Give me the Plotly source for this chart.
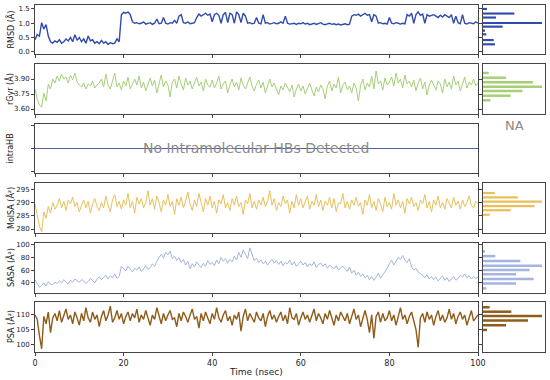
import plotly.graph_objects as go

# ---------------- data ----------------
RMSD = [0.42,0.6,0.55,1.02,0.8,0.95,0.55,0.35,0.3,0.38,
        0.33,0.42,0.3,0.35,0.45,0.38,0.5,0.35,0.6,0.4,
        0.5,0.35,0.45,0.3,0.55,0.38,0.42,0.3,0.35,0.28,
        0.4,0.3,0.35,0.25,0.32,0.28,0.3,0.45,0.35,1.3,
        1.38,1.35,1.4,1.3,1.05,1.0,1.02,0.98,1.0,1.05,
        0.97,1.0,1.02,0.96,1.0,1.15,0.98,1.0,1.2,1.0,
        0.97,1.02,1.0,1.1,1.0,1.25,1.3,1.02,1.0,1.05,
        0.98,1.0,1.02,1.2,1.32,1.25,1.3,1.35,1.28,1.32,
        1.05,1.3,1.35,1.28,1.0,1.3,1.38,1.02,1.35,1.3,
        1.0,1.4,1.3,1.02,1.35,1.25,1.0,1.02,0.98,1.0,
        1.2,1.0,0.98,1.3,1.0,1.02,0.97,1.0,1.02,0.98,
        1.0,1.05,1.0,1.25,1.0,0.97,0.98,1.0,0.96,1.0,
        0.98,1.02,0.97,1.0,0.95,0.98,1.0,0.96,0.98,1.02,
        0.97,0.95,0.98,1.0,0.96,0.98,0.95,0.97,0.94,0.96,
        0.98,0.95,0.97,1.25,1.3,1.28,1.32,1.25,1.3,1.35,
        1.28,1.3,1.05,1.3,1.25,1.0,1.02,0.98,1.0,0.97,
        1.2,1.0,0.98,1.02,1.0,0.97,1.0,0.98,1.3,1.25,
        1.35,1.0,1.3,1.4,1.28,1.32,1.0,1.3,1.25,1.28,
        1.3,1.25,1.2,1.28,1.22,1.3,1.25,1.2,1.3,1.0,
        1.25,1.02,0.98,1.3,1.0,0.97,1.02,1.0,0.98,1.05,
        1.0]

RGYR = [3.80,3.70,3.64,3.62,3.76,3.68,3.85,3.80,3.90,3.86,
        3.93,3.88,3.95,3.90,3.92,3.86,3.94,3.89,3.96,3.87,
        3.84,3.82,3.86,3.80,3.85,3.83,3.88,3.81,3.84,3.86,
        3.90,3.82,3.95,3.84,3.80,3.88,3.96,3.82,3.86,3.79,
        3.88,3.83,3.92,3.80,3.86,3.90,3.84,3.93,3.81,3.87,
        3.78,3.85,3.91,3.83,3.89,3.76,3.86,3.94,3.82,3.88,
        3.84,3.72,3.87,3.90,3.81,3.93,3.85,3.79,3.91,3.84,
        3.88,3.80,3.86,3.92,3.83,3.87,3.78,3.90,3.84,3.82,
        3.89,3.81,3.86,3.93,3.80,3.85,3.88,3.76,3.84,3.90,
        3.82,3.87,3.79,3.91,3.84,3.80,3.86,3.92,3.83,3.78,
        3.85,3.89,3.81,3.87,3.76,3.84,3.90,3.82,3.86,3.80,
        3.74,3.83,3.79,3.86,3.81,3.77,3.84,3.72,3.80,3.85,
        3.78,3.83,3.75,3.81,3.86,3.79,3.73,3.82,3.77,3.84,
        3.80,3.70,3.83,3.88,3.78,3.85,3.81,3.92,3.76,3.84,
        3.87,3.79,3.83,3.76,3.86,3.81,3.68,3.84,3.90,3.79,
        3.86,3.82,3.93,3.80,3.98,3.85,3.88,3.79,3.91,3.84,
        3.87,3.92,3.83,3.96,3.86,3.90,3.81,3.94,3.85,3.88,
        3.82,3.89,3.78,3.86,3.91,3.80,3.87,3.74,3.84,3.89,
        3.83,3.79,3.88,3.85,3.76,3.90,3.82,3.87,3.80,3.93,
        3.84,3.88,3.78,3.86,3.92,3.81,3.87,3.84,3.90,3.83,
        3.86]

INTRAHB = [0.0, 0.0]

MOLSA = [289.5,285.0,281.0,279.0,286.5,284.0,288.5,286.0,290.0,287.5,
         289.0,291.5,288.0,290.5,287.0,291.0,289.5,292.0,288.5,290.0,
         286.5,289.0,291.0,288.0,290.5,286.0,289.5,291.5,288.5,287.0,
         290.0,288.0,292.5,289.0,286.5,291.0,293.0,288.5,290.5,287.5,
         291.0,289.0,293.5,288.0,290.5,286.0,292.0,289.5,291.5,288.0,
         290.0,294.5,289.0,291.5,287.5,292.5,290.0,286.5,291.0,289.0,
         293.0,288.5,290.5,285.5,291.5,289.0,292.0,288.0,290.5,294.0,
         289.5,287.0,291.0,288.5,293.5,290.0,286.5,291.5,289.0,292.5,
         288.0,290.5,286.0,291.0,289.5,293.0,288.0,290.0,287.0,291.5,
         289.0,292.5,288.5,290.0,285.5,291.0,289.5,293.5,288.0,290.5,
         287.5,291.0,289.0,292.0,288.5,290.5,294.5,289.0,291.5,287.0,
         290.0,288.5,292.5,289.5,291.0,286.0,290.5,288.0,293.0,289.0,
         291.5,288.0,290.0,292.5,287.5,290.5,289.0,293.0,288.5,291.0,
         287.0,290.5,289.0,292.0,288.0,291.5,286.5,290.0,289.5,293.5,
         288.0,290.5,287.5,291.0,289.0,292.0,288.5,290.0,285.5,291.0,
         289.0,293.0,288.0,290.5,287.0,291.5,289.5,286.5,292.0,288.5,
         290.0,287.5,293.5,289.0,291.0,288.0,290.5,286.0,291.5,289.5,
         292.0,288.5,290.0,287.0,291.0,289.5,293.0,288.0,290.5,286.5,
         291.0,289.0,292.5,288.0,290.0,287.5,291.5,289.5,288.0,292.0,
         289.0,290.5,287.5,291.0,288.5,290.0,292.5,289.0,288.0,290.5,
         289.5]

SASA = [45,38,33,36,40,35,42,38,37,41,
        39,43,40,45,42,38,44,41,46,43,
        41,45,43,39,42,47,44,40,46,50,
        45,49,52,46,51,48,54,47,50,66,
        63,59,66,61,57,63,60,65,58,62,
        67,61,64,70,66,74,80,85,79,88,
        84,90,78,82,75,80,72,77,68,74,
        62,70,65,73,68,64,71,66,75,69,
        72,67,76,70,80,74,78,71,77,73,
        82,76,88,80,92,85,78,95,83,75,
        79,72,76,70,74,68,73,77,71,75,
        69,74,67,72,70,76,68,73,66,71,
        74,68,72,65,70,67,73,64,69,71,
        66,70,63,68,65,62,67,60,64,66,
        62,58,65,55,60,52,57,50,54,48,
        52,45,50,44,49,55,47,52,58,63,
        70,76,68,74,80,77,83,76,72,78,
        65,60,63,57,55,52,48,53,46,50,
        45,49,43,47,51,44,48,42,46,50,
        44,47,52,49,54,48,51,46,50,47,
        49]

PSA = [110.0,108.5,103.0,98.5,109.5,107.0,111.0,104.0,109.0,110.5,
       108.0,111.5,107.5,109.5,112.0,108.5,110.0,107.0,111.0,109.0,
       106.5,110.5,108.0,112.5,109.0,107.5,111.0,108.5,110.0,106.0,
       109.5,111.5,108.0,110.0,113.0,107.5,109.0,111.5,108.5,110.5,
       107.0,109.5,111.0,108.0,110.5,109.0,112.0,107.5,110.0,108.5,
       111.5,109.0,106.5,110.0,108.5,112.5,109.5,107.0,110.5,108.0,
       110.0,111.5,108.5,109.0,106.0,110.5,108.0,111.0,109.5,107.5,
       110.0,112.0,108.5,109.5,105.5,110.5,108.0,111.0,109.0,107.0,
       110.5,108.5,112.5,109.0,107.5,110.0,111.5,108.0,109.5,106.5,
       110.0,108.5,111.0,104.5,109.5,112.0,108.0,110.5,109.0,107.5,
       111.0,109.0,108.0,110.5,106.0,109.5,111.5,108.5,110.0,107.5,
       109.5,111.0,108.0,110.0,107.0,112.5,109.0,108.5,110.5,106.5,
       109.0,111.0,108.5,110.0,107.5,109.5,112.0,108.0,110.5,109.0,
       107.0,110.5,108.5,111.5,109.0,106.5,110.0,108.0,111.0,109.5,
       108.0,110.5,107.0,109.5,112.0,108.5,110.0,106.0,109.0,111.5,
       108.5,104.0,110.0,102.0,109.5,111.0,107.5,110.5,108.0,109.0,
       111.5,108.0,110.0,106.5,109.5,112.5,108.5,110.0,107.0,109.5,
       111.0,108.0,105.0,99.0,109.0,110.5,107.5,111.0,108.5,110.0,
       106.5,109.5,111.5,108.0,110.0,107.5,109.0,112.0,108.5,110.5,
       107.0,109.5,111.0,108.5,110.0,106.5,109.5,111.5,108.0,109.0,
       110.0]

# histogram bins (centres) and counts
RMSD_BINS = [1.50, 1.34, 1.20, 1.01, 0.88, 0.74, 0.61, 0.41, 0.26]
RMSD_COUNTS = [12, 94, 39, 177, 59, 5, 10, 32, 36]
RGYR_BINS = [3.96, 3.913, 3.867, 3.823, 3.78, 3.733, 3.687]
RGYR_COUNTS = [17, 68, 148, 175, 117, 82, 22]
MOLSA_BINS = [293.6, 292.0, 290.4, 288.7, 287.1, 285.4]
MOLSA_COUNTS = [35, 103, 175, 153, 82, 20]
SASA_BINS = [89.5, 82.0, 74.3, 66.9, 60.1, 53.4, 45.9, 39.1, 31.2]
SASA_COUNTS = [4, 37, 112, 177, 140, 99, 152, 99, 10]
PSA_BINS = [112.6, 111.1, 109.6, 108.1, 106.5, 104.9]
PSA_COUNTS = [20, 85, 177, 135, 69, 12]

T_MAX = 100
X_TICKS = [0, 20, 40, 60, 80, 100]

# ---------------- layout (pixels) ----------------
W, H = 550, 380
MAIN_X = (35, 478)
HIST_X = (483, 545)
ROWS = [(5, 54), (64, 114), (124, 173), (183, 233), (243, 293), (302, 352)]
FRAME = "#444444"
FONT = "DejaVu Sans"

panels = [
    dict(title="RMSD (Å)", y=RMSD, color="#2f4bab", lw=1.4, rng=[-0.08, 1.64],
         tv=[0, 0.5, 1.0, 1.5], tt=["0.0", "0.5", "1.0", "1.5"],
         bins=RMSD_BINS, counts=RMSD_COUNTS, bw=0.075),
    dict(title="rGyr (Å)", y=RGYR, color="#a6cf78", lw=1.0, rng=[3.55, 4.05],
         tv=[3.60, 3.75, 3.90], tt=["3.60", "3.75", "3.90"],
         bins=RGYR_BINS, counts=RGYR_COUNTS, bw=0.025),
    dict(title="intraHB", y=INTRAHB, color="#5262a8", lw=1.2, rng=[-1.05, 1.05],
         tv=[-1, 0, 1], tt=["", "", ""], bins=None, counts=None, bw=None),
    dict(title="MolSA (Å²)", y=MOLSA, color="#e8c05c", lw=1.0, rng=[278.5, 297.4],
         tv=[280, 285, 290, 295], tt=["280", "285", "290", "295"],
         bins=MOLSA_BINS, counts=MOLSA_COUNTS, bw=0.85),
    dict(title="SASA (Å²)", y=SASA, color="#a3b5e0", lw=1.0, rng=[24, 102.7],
         tv=[40, 60, 80, 100], tt=["40", "60", "80", "100"],
         bins=SASA_BINS, counts=SASA_COUNTS, bw=4.0),
    dict(title="PSA (Å²)", y=PSA, color="#8f5c1a", lw=1.4, rng=[97.4, 114.4],
         tv=[100, 105, 110], tt=["100", "105", "110"],
         bins=PSA_BINS, counts=PSA_COUNTS, bw=0.85),
]

fig = go.Figure()
layout = dict(width=W, height=H, margin=dict(l=0, r=0, t=0, b=0, autoexpand=False),
              paper_bgcolor="white", plot_bgcolor="white", showlegend=False,
              font=dict(family=FONT, color="#222"))
annotations = []

def fx(px):
    return px / W

def fy(px):
    return 1 - px / H

for i, p in enumerate(panels):
    mi, hi = 2 * i + 1, 2 * i + 2
    top, bot = ROWS[i]
    ydom = [fy(bot), fy(top)]
    n = len(p["y"])
    t = [T_MAX * k / (n - 1) for k in range(n)]
    fig.add_trace(go.Scatter(x=t, y=p["y"], mode="lines",
                             line=dict(color=p["color"], width=p["lw"]),
                             xaxis=f"x{mi}", yaxis=f"y{mi}", hoverinfo="skip"))
    last = (i == len(panels) - 1)
    layout[f"xaxis{mi}"] = dict(domain=[fx(MAIN_X[0]), fx(MAIN_X[1])], range=[0, T_MAX],
                                anchor=f"y{mi}", showgrid=False, zeroline=False,
                                showline=True, mirror=True, linecolor=FRAME, linewidth=1,
                                ticks="outside", ticklen=3, tickcolor=FRAME,
                                tickvals=X_TICKS, showticklabels=last, automargin=False,
                                tickfont=dict(size=8, family=FONT, color="#222"))
    layout[f"yaxis{mi}"] = dict(domain=ydom, range=p["rng"], anchor=f"x{mi}",
                                showgrid=False, zeroline=False, showline=True, mirror=True,
                                linecolor=FRAME, linewidth=1, ticks="outside", ticklen=3,
                                tickcolor=FRAME, tickvals=p["tv"], ticktext=p["tt"],
                                automargin=False,
                                tickfont=dict(size=7, family=FONT, color="#222"))
    # histogram panel
    if p["bins"] is not None:
        fig.add_trace(go.Bar(x=p["counts"], y=p["bins"], orientation="h",
                             width=p["bw"], marker=dict(color=p["color"], line=dict(width=0)),
                             xaxis=f"x{hi}", yaxis=f"y{hi}", hoverinfo="skip"))
        xr = [0, max(p["counts"]) * 1.05]
    else:
        xr = [0, 1]
    layout[f"xaxis{hi}"] = dict(domain=[fx(HIST_X[0]), fx(HIST_X[1])], range=xr,
                                anchor=f"y{hi}", showgrid=False, zeroline=False,
                                showline=True, mirror=True, linecolor=FRAME, linewidth=1,
                                ticks="", showticklabels=False, automargin=False)
    layout[f"yaxis{hi}"] = dict(domain=ydom, range=p["rng"], anchor=f"x{hi}",
                                showgrid=False, zeroline=False, showline=True, mirror=True,
                                linecolor=FRAME, linewidth=1, ticks="outside", ticklen=3,
                                tickcolor=FRAME, tickvals=p["tv"], showticklabels=False,
                                automargin=False)
    annotations.append(dict(text=p["title"], x=fx(10), y=fy((top + bot) / 2),
                            xref="paper", yref="paper", showarrow=False, textangle=-90,
                            xanchor="center", yanchor="middle",
                            font=dict(size=8, family=FONT, color="#222")))

annotations.append(dict(text="No Intramolecular HBs Detected", x=fx(256), y=fy(148),
                        xref="paper", yref="paper", showarrow=False,
                        xanchor="center", yanchor="middle",
                        font=dict(size=14, family=FONT, color="#8a8a8a")))
annotations.append(dict(text="NA", x=fx(514), y=fy(125), xref="paper", yref="paper",
                        showarrow=False, xanchor="center", yanchor="middle",
                        font=dict(size=13, family=FONT, color="#8a8a8a")))
annotations.append(dict(text="Time (nsec)", x=fx(256), y=fy(372), xref="paper", yref="paper",
                        showarrow=False, xanchor="center", yanchor="middle",
                        font=dict(size=9, family=FONT, color="#222")))
layout["annotations"] = annotations
fig.update_layout(**layout)
fig.write_html("out.html", config={"displayModeBar": False},
               post_script="document.body.style.margin='0';"
                           "document.documentElement.style.margin='0';")
